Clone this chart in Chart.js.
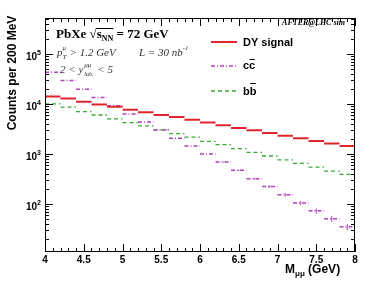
<!DOCTYPE html>
<html>
<head>
<meta charset="utf-8">
<script src="https://cdn.jsdelivr.net/npm/chart.js@4"></script>
<style>
  body { margin: 0; background: #fff; }
  canvas { display: block; }
</style>
</head>
<body>
<canvas id="chart" width="374" height="297"></canvas>
<script>
// lower edge of each 200 MeV bin (GeV)
const binLow = [4.0, 4.2, 4.4, 4.6, 4.8, 5.0, 5.2, 5.4, 5.6, 5.8,
                6.0, 6.2, 6.4, 6.6, 6.8, 7.0, 7.2, 7.4, 7.6, 7.8];
const binWidth = 0.2;

// counts per bin
const dySignal = [14000, 12800, 11100, 9750, 8800, 7650, 6800, 6000, 5450, 4800,
                  4230, 3740, 3300, 2970, 2630, 2320, 2050, 1820, 1610, 1450];
const ccbar = [43000, 29300, 19700, 13400, 9200, 6300, 4350, 3020, 2050, 1450,
               1000, 690, 470, 320, 223, 154, 105, 73, 51, 35];
const ccbarErr = [0, 0, 0, 0, 0, 0, 0, 0, 0, 0,
                  0, 20, 18, 16, 14, 12, 10, 9, 7, 5];
const bbbar = [10000, 8600, 7000, 6000, 5000, 4230, 3630, 3020, 2550, 2160,
               1790, 1540, 1280, 1080, 910, 760, 650, 545, 455, 390];

const xTickLabels = [4, 4.5, 5, 5.5, 6, 6.5, 7, 7.5, 8];
const yTickDecades = [100, 1000, 10000, 100000];
const yTickExp = ['2', '3', '4', '5'];

const xMin = 4, xMax = 8;
const yMin = 11, yMax = 520000;

const RED = '#e1262b';
const MAGENTA = '#b53fc0';
const GREEN = '#35ad35';

// one flat segment per bin, broken between bins
function histPoints(vals) {
  const pts = [];
  vals.forEach((v, i) => {
    pts.push({ x: binLow[i], y: v });
    pts.push({ x: binLow[i] + binWidth, y: v });
    pts.push({ x: binLow[i] + binWidth, y: null });
  });
  return pts;
}

function errPoints(vals, errs) {
  const pts = [];
  vals.forEach((v, i) => {
    if (!errs[i]) return;
    const c = binLow[i] + binWidth / 2;
    pts.push({ x: c, y: v - errs[i] });
    pts.push({ x: c, y: v + errs[i] });
    pts.push({ x: c, y: null });
  });
  return pts;
}

const SANS = '"Liberation Sans", Arial, sans-serif';
const SERIF = '"Liberation Serif", "Times New Roman", serif';

// draws pieces of text one after the other, returns end x
function run(ctx, x, y, parts) {
  parts.forEach(p => {
    ctx.font = p.font;
    ctx.fillText(p.t, x, y + (p.dy || 0));
    x += ctx.measureText(p.t).width + (p.gap || 0);
  });
  return x;
}

const framePlugin = {
  id: 'rootFrame',
  afterDraw(chart) {
    const ctx = chart.ctx;
    const a = chart.chartArea;
    const xs = chart.scales.x, ys = chart.scales.y;
    ctx.save();
    ctx.strokeStyle = '#000';
    ctx.fillStyle = '#000';
    ctx.lineWidth = 1;

    // frame
    ctx.strokeRect(a.left + 0.5, a.top + 0.5, a.right - a.left - 1, a.bottom - a.top - 1);

    // x ticks, bottom and top
    ctx.beginPath();
    for (let k = 0; k <= 40; k++) {
      const px = Math.round(xs.getPixelForValue(xMin + k * 0.1)) + 0.5;
      const len = k % 5 === 0 ? 8 : 4;
      ctx.moveTo(px, a.bottom); ctx.lineTo(px, a.bottom - len);
      ctx.moveTo(px, a.top); ctx.lineTo(px, a.top + len);
    }
    // y ticks, left and right (log minor ticks)
    for (let d = 1; d <= 100000; d *= 10) {
      for (let m = 1; m <= 9; m++) {
        const v = m * d;
        if (v < yMin || v > yMax) continue;
        const py = Math.round(ys.getPixelForValue(v)) + 0.5;
        const len = m === 1 ? 8 : 4;
        ctx.moveTo(a.left, py); ctx.lineTo(a.left + len, py);
        ctx.moveTo(a.right, py); ctx.lineTo(a.right - len, py);
      }
    }
    ctx.stroke();

    // x tick labels
    ctx.textAlign = 'center';
    ctx.textBaseline = 'alphabetic';
    ctx.font = 'bold 10px ' + SANS;
    xTickLabels.forEach(v => {
      ctx.fillText(String(v), xs.getPixelForValue(v), 263);
    });

    // y tick labels 10^n
    yTickDecades.forEach((v, i) => {
      const py = ys.getPixelForValue(v);
      ctx.textAlign = 'right';
      ctx.font = 'bold 10px ' + SANS;
      ctx.fillText('10', 37, py + 6);
      ctx.textAlign = 'left';
      ctx.font = 'bold 7px ' + SANS;
      ctx.fillText(yTickExp[i], 37, py + 1);
    });

    // axis titles
    ctx.textAlign = 'left';
    let x = run(ctx, 285, 273, [{ t: 'M', font: 'bold 12px ' + SANS }]);
    x = run(ctx, x, 273, [{ t: 'μμ', font: 'bold 8px ' + SANS, dy: 3 }]);
    run(ctx, x, 273, [{ t: ' (GeV)', font: 'bold 12px ' + SANS }]);

    ctx.save();
    ctx.translate(16, 73);
    ctx.rotate(-Math.PI / 2);
    ctx.textAlign = 'center';
    ctx.font = 'bold 12px ' + SANS;
    ctx.fillText('Counts per 200 MeV', 0, 0);
    ctx.restore();

    // top-left annotations
    ctx.textAlign = 'left';
    ctx.fillStyle = '#000';
    const tf = 'bold 13px ' + SERIF;
    x = run(ctx, 56, 38, [{ t: 'PbXe ', font: tf }]);
    x = run(ctx, x, 38, [{ t: '√', font: tf }]);
    const barStart = x;
    x = run(ctx, x, 38, [{ t: 's', font: tf }]);
    x = run(ctx, x, 38, [{ t: 'NN', font: 'bold 8px ' + SERIF, dy: 3 }]);
    ctx.beginPath();
    ctx.moveTo(barStart - 0.5, 28.5); ctx.lineTo(x, 28.5);
    ctx.stroke();
    run(ctx, x, 38, [{ t: ' = 72 GeV', font: tf }]);

    ctx.fillStyle = '#333';
    const itf = 'italic 11px ' + SERIF;
    x = run(ctx, 57, 56, [{ t: 'p', font: itf }]);
    run(ctx, x, 56, [{ t: 'μ', font: 'italic 7px ' + SERIF, dy: -6 }]);
    run(ctx, x, 56, [{ t: 'T', font: 'italic 7px ' + SERIF, dy: 3 }]);
    run(ctx, x + 7, 56, [{ t: '> 1.2 GeV', font: itf }]);

    x = run(ctx, 139, 56, [{ t: 'L = 30 nb', font: itf }]);
    run(ctx, x, 56, [{ t: '-1', font: 'italic 7px ' + SERIF, dy: -6 }]);

    x = run(ctx, 60, 73, [{ t: '2 < y', font: itf }]);
    run(ctx, x + 1, 73, [{ t: 'μμ', font: 'italic 7px ' + SERIF, dy: -6 }]);
    run(ctx, x + 1, 73, [{ t: 'lab.', font: 'italic 6px ' + SERIF, dy: 3 }]);
    run(ctx, x + 14, 73, [{ t: '< 5', font: itf }]);

    ctx.fillStyle = '#000';
    ctx.textAlign = 'right';
    ctx.font = 'bold italic 8px ' + SERIF;
    ctx.fillText('AFTER@LHC sim', 345, 25);

    // legend
    ctx.textAlign = 'left';
    const leg = [
      { label: 'DY signal', color: RED, w: 2, dash: [], ly: 42, ty: 46, bar: false },
      { label: 'cc', color: MAGENTA, w: 1.5, dash: [4, 2, 1, 2], ly: 66, ty: 69, bar: true, barY: 59.5 },
      { label: 'bb', color: GREEN, w: 1.3, dash: [4, 3], ly: 91, ty: 95, bar: true, barY: 83.5 }
    ];
    leg.forEach(l => {
      ctx.strokeStyle = l.color;
      ctx.lineWidth = l.w;
      ctx.setLineDash(l.dash);
      ctx.beginPath();
      ctx.moveTo(211, l.ly); ctx.lineTo(237, l.ly);
      ctx.stroke();
      ctx.setLineDash([]);
      ctx.fillStyle = '#000';
      ctx.font = 'bold 11px ' + SANS;
      ctx.fillText(l.label, 243, l.ty);
      if (l.bar) {
        const w1 = ctx.measureText(l.label[0]).width;
        ctx.strokeStyle = '#000';
        ctx.lineWidth = 1;
        ctx.beginPath();
        ctx.moveTo(243 + w1 + 0.5, l.barY); ctx.lineTo(243 + 2 * w1 - 0.5, l.barY);
        ctx.stroke();
      }
    });
    ctx.restore();
  }
};

new Chart(document.getElementById('chart'), {
  type: 'line',
  data: {
    datasets: [
      {
        label: 'DY signal',
        data: histPoints(dySignal),
        borderColor: RED,
        borderWidth: 2,
        pointRadius: 0,
        spanGaps: false
      },
      {
        label: 'cc̄',
        data: histPoints(ccbar),
        borderColor: MAGENTA,
        borderWidth: 1.5,
        borderDash: [4, 2, 1, 2],
        pointRadius: 0,
        spanGaps: false
      },
      {
        label: 'cc̄ errors',
        data: errPoints(ccbar, ccbarErr),
        borderColor: MAGENTA,
        borderWidth: 1,
        pointRadius: 0,
        spanGaps: false
      },
      {
        label: 'bb̄',
        data: histPoints(bbbar),
        borderColor: GREEN,
        borderWidth: 1.3,
        borderDash: [4, 3],
        pointRadius: 0,
        spanGaps: false
      }
    ]
  },
  options: {
    responsive: false,
    animation: false,
    layout: { padding: { left: 45, right: 19, top: 18, bottom: 45 } },
    plugins: { legend: { display: false }, tooltip: { enabled: false } },
    scales: {
      x: { type: 'linear', min: xMin, max: xMax, display: false },
      y: { type: 'logarithmic', min: yMin, max: yMax, display: false }
    }
  },
  plugins: [framePlugin]
});
</script>
</body>
</html>
